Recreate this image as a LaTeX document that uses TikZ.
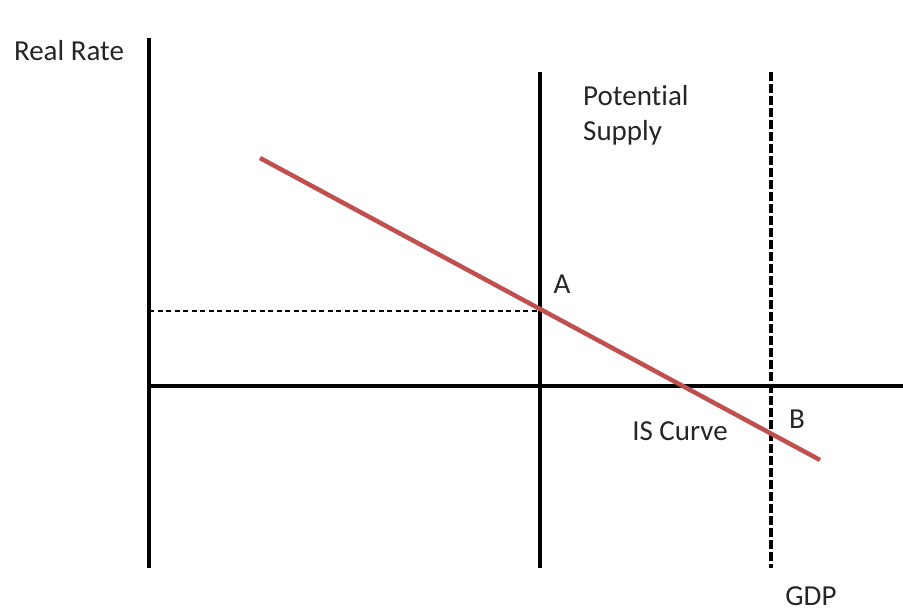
\documentclass[tikz,border=0pt]{standalone}
\usepackage{fontspec}
\setmainfont[Ligatures=NoCommon]{Carlito}
\definecolor{isred}{HTML}{C0504D}
\begin{document}
\begin{tikzpicture}[x=1pt,y=-1pt,
  axis/.style={line width=3.4pt,black},
  lbl/.style={font=\fontsize{29}{34}\selectfont,text=black!85,inner sep=0pt,anchor=base}]
\useasboundingbox (0,0) rectangle (903,616);
\coordinate (yt) at (149,38);
\coordinate (yb) at (149,568);
\coordinate (xl) at (149,386);
\coordinate (xr) at (903,386);
\coordinate (pt) at (540,72);
\coordinate (pb) at (540,568);
\coordinate (dt) at (771,72);
\coordinate (db) at (771,568);
\coordinate (hl) at (149,311);
\coordinate (hr) at (540,311);
\coordinate (is1) at (260,158);
\coordinate (is2) at (820,460);
\draw[axis] (yt) -- (yb);
\draw[axis] (xl) -- (xr);
\draw[axis] (pt) -- (pb);
\draw[line width=3.6pt,dash pattern=on 9pt off 3pt] (dt) -- (db);
\draw[line width=1.2pt,dash pattern=on 5pt off 3.5pt] (hl) -- (hr);
\draw[isred,line width=4.5pt] (is1) -- (is2);
\node[lbl] (rr) at (69,60) {Real Rate};
\node[lbl,anchor=base west] (pot) at (583,105) {Potential};
\node[lbl,anchor=base west] (sup) at (583,140) {Supply};
\node[lbl] (a) at (562,293) {A};
\node[lbl] (b) at (797,428) {B};
\node[lbl] (isc) at (680,440) {IS Curve};
\node[lbl] (gdp) at (811,605) {GDP};
\end{tikzpicture}
\end{document}
